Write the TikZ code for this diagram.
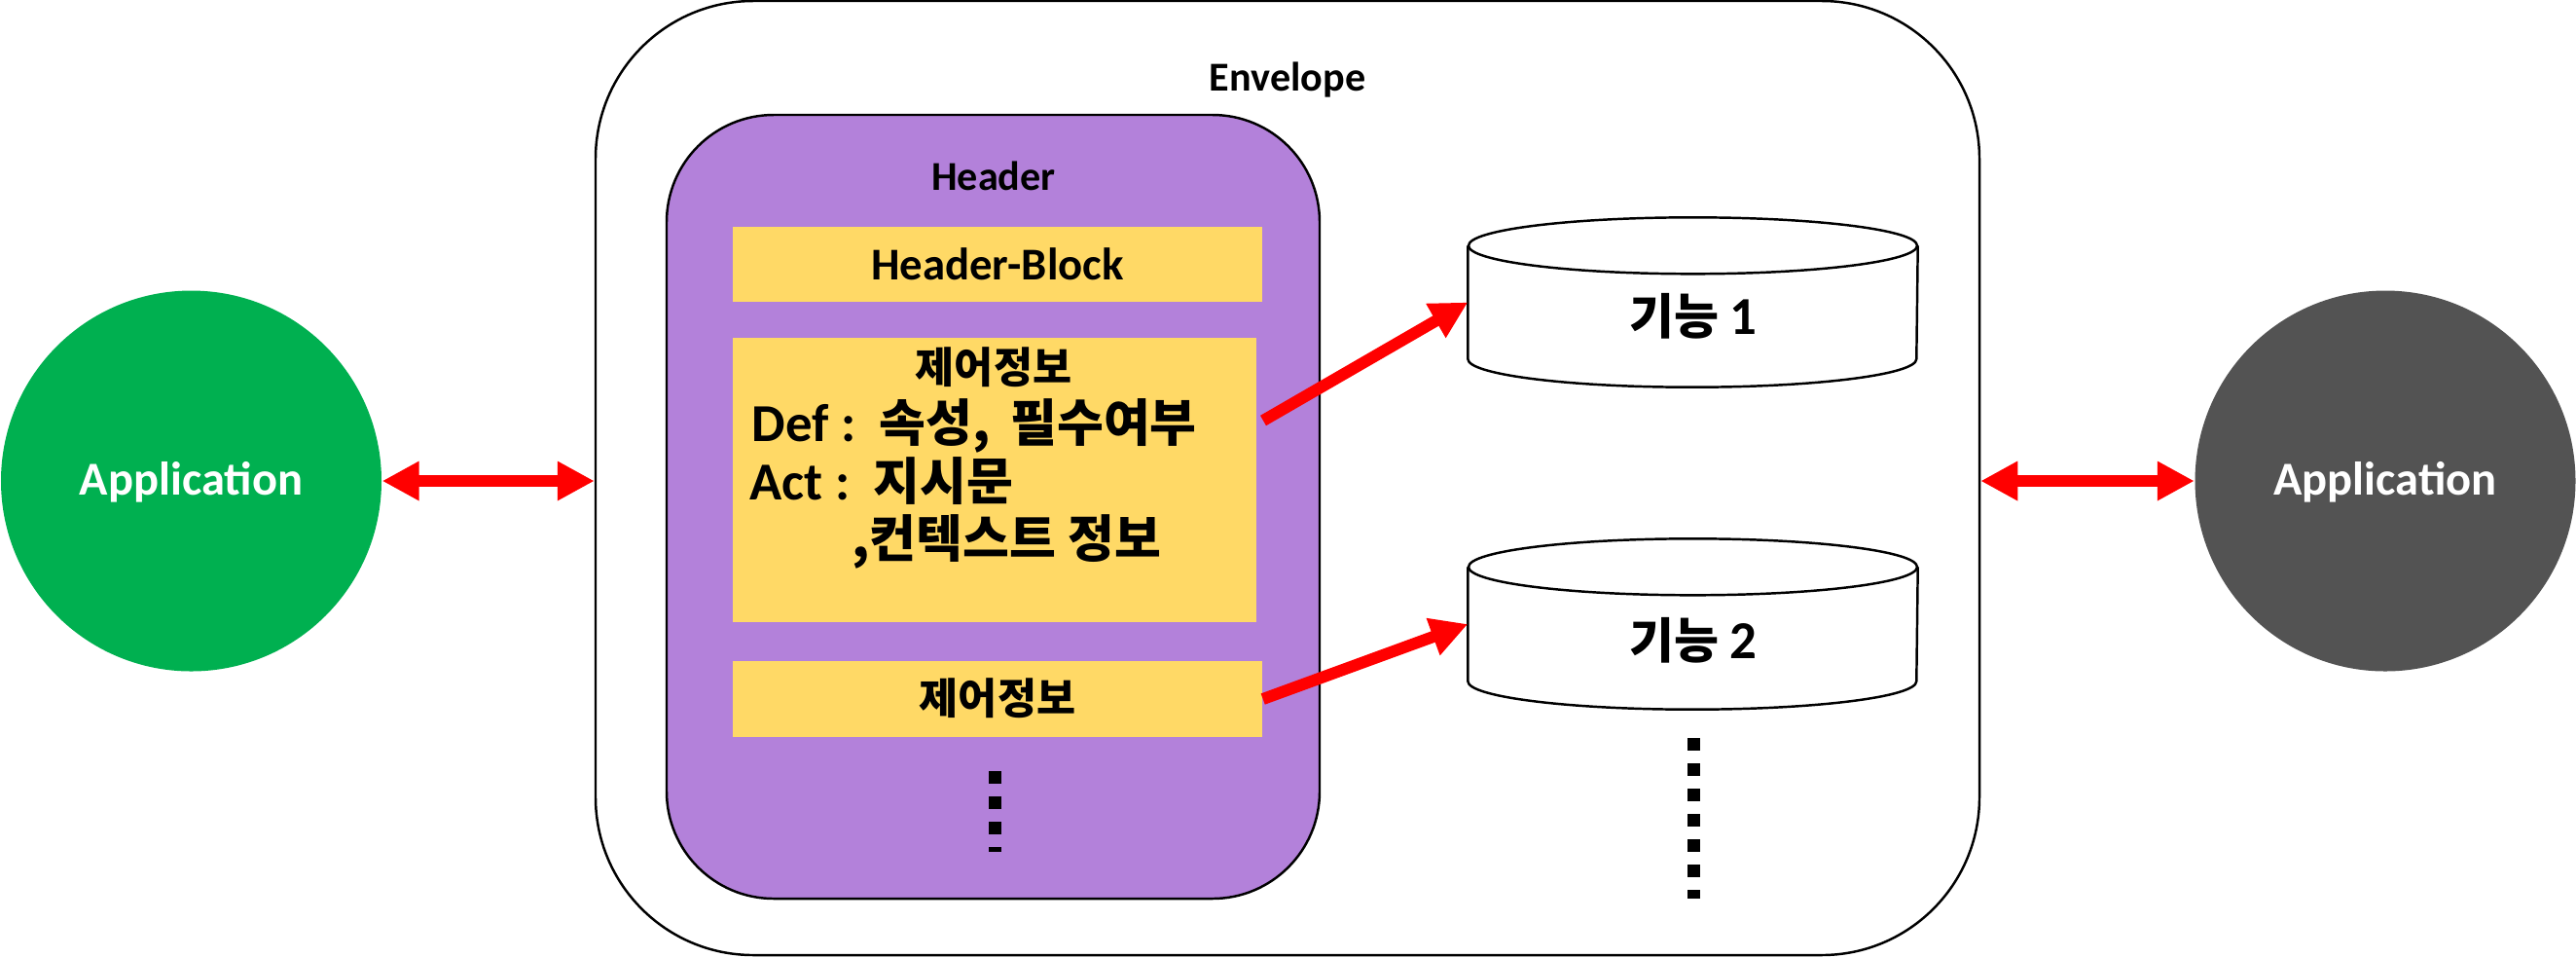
\documentclass[tikz,border=0pt]{standalone}
\usepackage{fontspec}
\setmainfont{Noto Sans CJK KR}
\newfontfamily\lat{Carlito}
\usetikzlibrary{arrows.meta,calc}
\definecolor{appgreen}{HTML}{00B050}
\definecolor{appgray}{HTML}{535353}
\definecolor{hdrpurple}{HTML}{B381DA}
\definecolor{blkyellow}{HTML}{FFD966}
\definecolor{arrred}{HTML}{FF0000}
\newcommand{\latbig}[1]{{\lat\bfseries\fontsize{15.6pt}{17pt}\selectfont #1}}
\tikzset{
  appnode/.style={circle, minimum size=3.91cm, inner sep=0pt, text=white},
  applbl/.style={inner sep=0pt, anchor=base, text=white, font=\lat\bfseries\fontsize{13.8pt}{16pt}\selectfont},
  lbl/.style={inner sep=0pt, anchor=base, font=\lat\bfseries\fontsize{12pt}{14pt}\selectfont},
  krlbl/.style={inner sep=0pt, anchor=base, font=\fontsize{12.4pt}{14pt}\selectfont\bfseries},
  big/.style={inner sep=0pt, anchor=base west, font=\fontsize{14.8pt}{17pt}\selectfont\bfseries},
  ybox/.style={fill=blkyellow, inner sep=0pt},
  funcbody/.style={rectangle, minimum width=4.61cm, inner sep=0pt},
  cylline/.style={draw=black, line width=0.7pt, fill=white},
  dblarrow/.style={arrred, line width=0.12cm, {Triangle[length=0.38cm,width=0.38cm]}-{Triangle[length=0.38cm,width=0.38cm]}},
  onearrow/.style={arrred, line width=0.12cm, -{Triangle[length=0.38cm,width=0.38cm]}},
  dotline/.style={line width=0.13cm, dash pattern=on 0.13cm off 0.13cm}
}
\begin{document}
\begin{tikzpicture}
\useasboundingbox (0,0) rectangle (26.47,-9.83);
% applications
\node[appnode, fill=appgreen] (app1) at (1.965,-4.94) {};
\node[applbl] (app1t) at (1.965,-5.08) {Application};
\node[appnode, fill=appgray] (app2) at (24.51,-4.94) {};
\node[applbl] (app2t) at (24.51,-5.08) {Application};
% envelope
\node[draw=black, line width=0.7pt, rounded corners=1.62cm, minimum width=14.22cm, minimum height=9.80cm, inner sep=0pt] (env) at (13.23,-4.91) {};
\node[lbl] (envlbl) at (13.23,-0.93) {Envelope};
% header
\node[draw=black, line width=0.7pt, fill=hdrpurple, rounded corners=1.1cm, minimum width=6.71cm, minimum height=8.05cm, inner sep=0pt] (hdr) at (10.205,-5.205) {};
\node[lbl] (hdrlbl) at (10.21,-1.95) {Header};
\node[ybox, minimum width=5.44cm, minimum height=0.77cm] (hb) at (10.25,-2.715) {};
\node[lbl, font=\lat\bfseries\fontsize{13.3pt}{15pt}\selectfont] (hbt) at (10.25,-2.87) {Header-Block};
\node[ybox, minimum width=5.38cm, minimum height=2.92cm] (cb) at (10.22,-4.93) {};
\node[krlbl] (t0) at (10.21,-3.93) {제어정보};
\node[big] (t1) at (7.72,-4.53) {\latbig{Def :}\, 속성,\, 필수여부};
\node[big] (t2) at (7.70,-5.13) {\latbig{Act :}\, 지시문};
\node[big] (t3) at (8.75,-5.72) {,컨텍스트 정보};
\node[ybox, minimum width=5.44cm, minimum height=0.78cm] (sb) at (10.25,-7.18) {};
\node[krlbl] (sbt) at (10.25,-7.33) {제어정보};
\draw[dotline] (10.22,-7.92) -- (10.22,-8.75);
% functions
\node[funcbody, minimum height=1.15cm] (f1) at (17.395,-3.105) {};
\node[funcbody, minimum height=1.16cm] (f2) at (17.395,-6.41) {};
\foreach \f in {f1,f2}{
  \fill[white] (\f.north west) rectangle (\f.south east);
  \draw[line width=0.7pt] (\f.north west) -- (\f.south west) arc[start angle=180, end angle=360, x radius=2.305cm, y radius=0.29cm] -- (\f.north east);
  \draw[cylline] (\f.north) ellipse[x radius=2.305cm, y radius=0.29cm];
}
\node[big, anchor=base, font=\fontsize{14.2pt}{16pt}\selectfont\bfseries] (f1t) at (17.40,-3.43) {기능 \latbig{1}};
\node[big, anchor=base, font=\fontsize{14.2pt}{16pt}\selectfont\bfseries] (f2t) at (17.40,-6.76) {기능 \latbig{2}};
\draw[dotline] (17.40,-7.58) -- (17.40,-9.23);
% connectors
\coordinate (s1) at (12.98,-4.32);
\draw[onearrow] (s1) -- (f1.west);
\draw[onearrow] (sb.east) -- (f2.west);
\draw[dblarrow] (app1.east) -- (app1.east -| env.west);
\draw[dblarrow] (app2.west -| env.east) -- (app2.west);
\end{tikzpicture}
\end{document}
